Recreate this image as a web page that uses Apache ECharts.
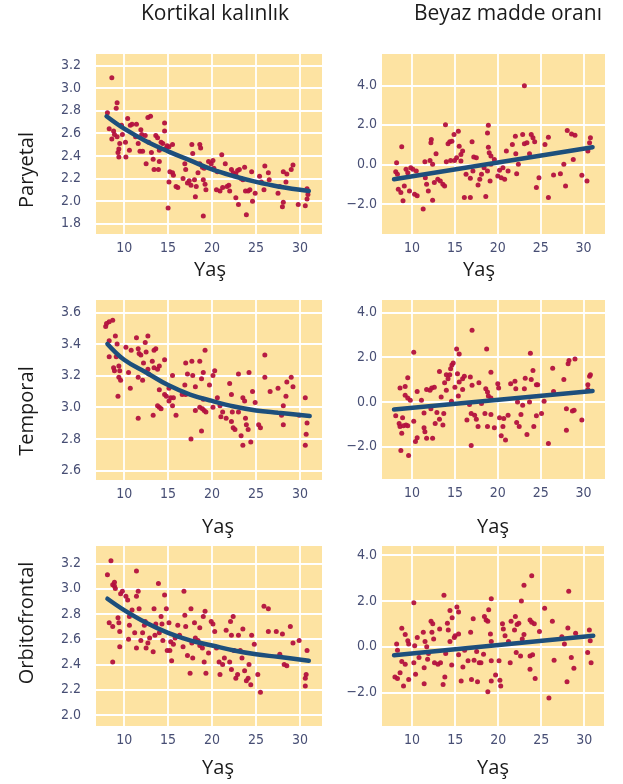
<!DOCTYPE html>
<html>
<head>
<meta charset="utf-8">
<script src="https://cdn.jsdelivr.net/npm/echarts@6/dist/echarts.min.js"></script>
<style>
  html, body { margin: 0; padding: 0; background: #fff; }
</style>
</head>
<body>
<div id="chart" style="width:623px;height:784px"></div>
<script>
// column / row labels
const colTitles = ['Kortikal kalınlık', 'Beyaz madde oranı'];
const rowTitles = ['Paryetal', 'Temporal', 'Orbitofrontal'];
const xTitle = 'Yaş';
const ageTicks = [10, 15, 20, 25, 30];

// Paryetal - kortikal kalinlik
const paryetalKortikal = [
  [8.6,3.09],[8.1,2.78],[9.2,2.87],[9.1,2.82],[8.3,2.64],[8.6,2.55],[8.9,2.59],[9.2,2.57],[9.5,2.51],[9.4,2.46],
  [9.3,2.43],[9.4,2.39],[9.7,2.67],[9.8,2.59],[10.15,2.52],[10.2,2.39],[10.4,2.73],[10.6,2.45],[8.8,2.62],
  [10.7,2.67],[10.9,2.68],[11.3,2.57],[11.4,2.68],[11.6,2.51],[11.8,2.44],[11.9,2.63],[12.0,2.59],[12.1,2.44],
  [12.4,2.58],[12.5,2.33],[12.7,2.74],[13.0,2.75],[12.8,2.52],[13.1,2.43],[13.3,2.37],[13.4,2.28],[13.9,2.28],
  [13.6,2.58],[13.8,2.56],[14.0,2.45],[14.2,2.52],[14.4,2.51],[14.6,2.69],[14.6,2.62],[14.8,2.47],[14.9,2.49],
  [15.1,2.48],[15.5,2.50],[14.0,2.35],[15.1,2.17],[15.2,2.26],[15.5,2.25],[15.0,1.94],[15.6,2.23],[15.9,2.13],
  [16.1,2.12],[16.7,2.20],[16.9,2.33],[17.0,2.28],[17.2,2.16],[17.4,2.18],[17.6,2.14],[17.7,2.50],[17.8,2.42],
  [18.0,2.19],[18.2,2.13],[18.1,2.04],[18.4,2.25],[18.6,2.50],[18.7,2.47],[18.6,2.33],[18.9,2.30],[19.0,2.19],
  [19.1,2.29],[19.2,2.15],[19.3,2.10],[19.0,1.87],[19.6,2.35],[19.9,2.33],[20.1,2.36],[20.2,2.29],[20.5,2.10],
  [20.6,2.26],[20.9,2.09],[21.1,2.41],[21.5,2.33],[21.2,2.12],[21.7,2.13],[21.9,2.14],[22.0,2.09],[22.2,2.28],
  [22.4,2.25],[22.7,2.03],[22.7,2.24],[22.9,2.27],[23.1,2.28],[23.0,1.97],[23.3,2.20],[23.5,2.19],[23.7,2.30],
  [23.8,2.09],[23.9,1.88],[24.1,2.09],[24.3,2.10],[24.5,2.26],[24.6,2.00],[24.9,2.07],[25.4,2.22],[25.6,2.17],
  [25.9,2.10],[26.0,2.31],[26.4,2.25],[26.5,2.19],[27.5,2.07],[27.7,2.13],[28.0,1.95],[28.1,1.99],[28.1,2.26],
  [28.4,2.17],[28.5,2.24],[29.0,2.28],[29.2,2.32],[29.8,1.97],[30.6,1.96],[30.8,2.11],[30.9,2.06],[30.8,2.02]
];
const paryetalKortikalFit = [[8,2.75],[10,2.64],[12.5,2.53],[15,2.44],[17.5,2.36],[20,2.28],[22.5,2.22],[25,2.17],[27.5,2.13],[31,2.09]];

// Paryetal - beyaz madde
const paryetalBeyaz = [
  [23.1,3.97],[13.9,2.0],[18.9,1.98],[8.8,0.89],[8.2,0.08],[8.1,-0.37],[8.3,-0.5],[8.4,-1.26],[8.7,-1.42],[8.95,-1.84],
  [9.1,-1.09],[9.3,-0.25],[9.5,-0.42],[9.7,-1.34],[9.85,-0.17],[10.1,-0.25],[10.3,-1.51],[10.6,-1.59],[10.5,-0.34],
  [11.3,-2.26],[11.5,0.13],[11.55,-0.67],[11.7,-1.0],[11.9,-1.34],[12.1,0.2],[12.2,1.09],[12.25,1.26],[12.4,0],
  [12.4,-1.81],[12.6,-0.92],[12.8,0.54],[13.0,-0.75],[13.3,-0.84],[13.6,-1.0],[13.8,-1.09],[14.0,0.13],[14.2,1.04],
  [14.4,1.14],[14.5,0.2],[14.65,1.17],[14.9,1.51],[14.96,0.2],[15.2,0.34],[15.4,1.68],[15.5,0.92],[15.7,0.5],
  [15.7,0.17],[15.9,0.67],[16.1,-1.68],[16.3,-0.5],[16.8,-0.7],[16.8,-1.68],[17.0,1.14],[17.1,-0.34],[17.2,0.37],
  [17.5,0.34],[17.7,-1.04],[17.9,-0.75],[18.1,-0.5],[18.4,-0.17],[18.6,-1.63],[18.8,1.59],[18.8,-0.34],[18.9,0.87],
  [19.0,0.59],[19.1,-0.84],[19.2,0.42],[19.2,0],[19.6,0.25],[20.0,-0.59],[20.2,-0.3],[20.4,-0.67],[20.6,-0.17],
  [20.8,-0.75],[21.0,0.67],[21.2,-0.34],[21.7,1.0],[22.05,1.42],[22.1,0.54],[22.2,-0.47],[22.4,0],[22.9,1.51],
  [23.1,1.04],[23.4,1.09],[23.7,0.54],[23.9,1.51],[24.1,1.34],[24.3,1.14],[24.5,-1.17],[24.8,-0.67],[25.5,1.0],
  [25.9,1.37],[25.9,-1.68],[26.5,-0.54],[27.3,-0.47],[27.7,0],[27.9,-1.09],[28.1,1.71],[28.6,1.54],[29.0,1.47],
  [28.8,0.25],[29.8,-0.55],[30.4,-0.84],[30.5,0.67],[30.7,1.09],[30.8,1.34]
];
const paryetalBeyazFit = [[7.9,-0.75],[31.05,0.87]];

// Temporal - kortikal kalinlik
const temporalKortikal = [
  [7.9,3.51],[8.0,3.53],[8.3,3.54],[8.7,3.55],[8.3,3.42],[9.0,3.45],[9.2,3.40],[8.3,3.32],[8.8,3.25],[8.9,3.23],
  [9.1,3.32],[9.4,3.26],[9.5,3.23],[9.4,3.19],[9.6,3.17],[9.3,3.07],[10.2,3.38],[10.5,3.22],[10.7,3.12],[10.8,3.36],
  [11.4,3.44],[11.6,3.37],[11.6,3.19],[11.7,3.34],[11.6,2.93],[11.9,3.33],[12.1,3.17],[12.2,3.28],[12.4,3.41],
  [12.5,3.35],[12.7,3.45],[12.7,3.24],[12.8,3.21],[13.2,3.29],[13.4,3.25],[13.4,3.36],[13.6,3.37],[13.8,3.24],
  [14.0,3.26],[13.8,3.01],[14.0,3.0],[14.2,2.99],[13.3,2.95],[14.0,3.11],[14.6,3.30],[14.6,3.08],[14.8,3.07],
  [15.1,3.12],[15.1,3.04],[15.3,3.06],[15.5,3.20],[15.5,3.01],[15.6,3.06],[15.9,2.95],[16.6,3.08],[16.9,3.14],
  [17.0,3.28],[17.0,3.08],[17.2,3.21],[17.6,2.80],[17.7,3.29],[17.8,3.20],[18.1,3.13],[18.6,3.29],[18.8,3.18],
  [19.0,3.22],[19.2,3.36],[18.8,2.85],[18.6,3.0],[18.9,2.99],[19.1,2.98],[19.3,2.97],[18.1,2.98],[19.0,3.05],
  [19.7,3.14],[20.1,3.20],[20.3,3.23],[20.1,3.0],[20.6,3.06],[20.9,3.01],[21.0,2.94],[21.2,2.97],[21.6,2.93],
  [22.0,3.15],[22.2,3.08],[22.3,2.97],[22.2,2.91],[22.4,2.87],[22.6,2.86],[23.0,3.21],[23.0,2.97],[23.3,2.82],
  [23.5,3.06],[23.7,3.04],[23.5,2.76],[23.8,2.93],[23.9,2.89],[24.1,2.86],[24.2,3.22],[24.4,2.78],[24.6,3.10],
  [24.9,3.03],[25.3,2.89],[25.5,2.87],[26.0,3.33],[26.0,3.19],[26.6,3.10],[27.5,3.12],[27.9,2.95],[28.1,3.01],
  [28.1,2.89],[28.4,3.07],[28.5,3.16],[29.0,3.19],[29.2,3.13],[29.9,2.95],[30.6,3.06],[30.8,2.90],[30.7,2.83],
  [30.6,2.76]
];
const temporalKortikalFit = [[8.1,3.40],[10,3.30],[12.5,3.22],[15,3.14],[17.5,3.08],[20,3.04],[22.5,3.005],[25,2.98],[27.5,2.965],[31.1,2.945]];

// Temporal - beyaz madde
const temporalBeyaz = [
  [17.0,3.2],[15.2,2.36],[15.5,2.14],[18.7,2.36],[10.2,2.22],[23.8,2.17],[8.6,0.62],[9.2,0.69],[9.5,1.08],[9.2,0.3],
  [9.5,0.18],[9.8,0.07],[8.1,-0.62],[8.5,-0.96],[8.6,-1.1],[8.9,-0.71],[9.0,-1.06],[9.3,-1.03],[9.5,-1.06],[8.8,-1.4],
  [8.7,-2.17],[9.6,-2.39],[10.2,-0.86],[10.4,-1.77],[10.6,-1.6],[10.6,0.47],[11.1,0.07],[11.4,-0.49],[11.4,-1.15],
  [11.5,-1.33],[11.7,-1.62],[11.7,0.56],[12.1,0.52],[12.3,0.62],[12.4,-1.62],[12.2,-0.3],[12.6,0.66],[12.7,-0.96],
  [12.9,-0.47],[13.2,1.36],[13.2,-0.77],[13.4,0.22],[13.6,-1.03],[13.7,-0.52],[13.8,0.86],[14.0,1.21],[14.0,0.52],
  [14.2,1.03],[14.4,1.21],[14.5,1.48],[14.65,1.65],[14.8,1.74],[14.6,0.03],[15.0,0.66],[15.3,1.26],[15.4,0.27],
  [15.5,0.89],[15.9,1.03],[15.9,0.56],[16.1,1.15],[16.4,-0.81],[16.7,-0.12],[16.8,1.11],[16.9,-0.52],[16.9,-1.95],
  [17.0,0.74],[17.3,-0.59],[17.5,-0.77],[17.7,-1.1],[17.8,0.86],[18.1,-0.07],[18.5,-0.52],[18.6,0.59],[18.8,-1.1],
  [18.8,0.44],[18.9,0.27],[19.2,1.33],[19.2,0.18],[19.2,-0.56],[19.6,-1.15],[20.0,0.81],[20.1,0.62],[20.2,-0.71],
  [20.4,-1.51],[20.6,-1.1],[20.7,-0.74],[20.9,-1.7],[21.2,-0.59],[21.5,0.81],[22.0,0.92],[22.1,0.59],[22.2,-0.92],
  [22.3,0],[22.5,-1.1],[22.7,-0.56],[22.9,-0.15],[23.1,0.59],[23.2,1.06],[23.4,-1.45],[23.7,0],[23.9,1.0],[24.1,1.4],
  [24.2,-1.1],[24.5,0.77],[24.65,0.77],[24.5,-0.62],[25.1,-0.52],[25.4,0.03],[25.9,-1.85],[26.4,1.5],[26.5,0.47],
  [27.7,1.0],[28.0,-1.26],[28.0,-0.3],[28.2,1.7],[28.3,1.85],[28.7,-0.41],[28.9,-0.37],[29.0,1.92],[29.8,-0.81],
  [30.5,0.77],[30.5,0.56],[30.7,1.15],[30.8,1.21]
];
const temporalBeyazFit = [[7.9,-0.34],[31.05,0.49]];

// Orbitofrontal - kortikal kalinlik
const orbitoKortikal = [
  [8.5,3.22],[8.1,3.11],[8.7,3.03],[8.9,3.05],[8.9,3.02],[9.0,3.0],[8.3,2.73],[8.7,2.70],[9.3,2.77],[9.4,2.73],
  [9.5,2.66],[9.5,2.54],[8.7,2.42],[9.6,2.96],[9.8,2.98],[10.2,2.94],[10.4,2.91],[10.6,2.78],[10.6,2.71],[10.5,2.60],
  [10.9,2.83],[11.2,2.65],[11.4,3.14],[11.4,2.94],[11.6,2.98],[11.4,2.53],[11.7,2.84],[11.9,2.59],[12.1,2.65],
  [12.3,2.71],[12.4,2.74],[12.5,2.53],[12.7,2.57],[12.9,2.61],[13.3,2.50],[13.4,2.84],[13.5,2.63],[13.6,2.72],
  [13.9,3.04],[14.0,2.65],[14.2,2.78],[14.3,2.72],[14.4,2.59],[14.6,2.95],[14.8,2.84],[14.9,2.51],[15.1,2.73],
  [15.2,2.51],[15.3,2.58],[15.4,2.43],[15.6,2.56],[15.8,2.61],[16.1,2.71],[16.3,2.63],[16.7,2.54],[16.8,2.98],
  [16.9,2.79],[17.0,2.70],[17.2,2.47],[17.5,2.33],[17.6,2.84],[17.7,2.57],[17.8,2.45],[18.0,2.73],[18.1,2.61],
  [18.4,2.59],[18.6,2.69],[18.6,2.55],[18.9,2.53],[19.0,2.78],[19.2,2.82],[19.1,2.42],[19.3,2.33],[19.6,2.49],
  [19.9,2.74],[20.1,2.72],[20.3,2.66],[20.5,2.53],[20.8,2.42],[20.9,2.32],[21.2,2.40],[21.4,2.45],[21.6,2.67],
  [22.0,2.42],[22.1,2.74],[22.2,2.63],[22.2,2.36],[22.4,2.78],[22.5,2.51],[22.7,2.29],[22.9,2.32],[23.0,2.63],
  [23.2,2.51],[23.4,2.45],[23.5,2.68],[23.7,2.35],[23.9,2.27],[24.1,2.29],[24.2,2.40],[24.4,2.24],[24.5,2.63],
  [24.8,2.56],[25.2,2.32],[25.5,2.18],[25.9,2.86],[26.4,2.84],[26.4,2.66],[27.3,2.66],[27.7,2.48],[28.0,2.64],
  [28.2,2.40],[28.5,2.39],[28.9,2.70],[29.2,2.57],[29.9,2.59],[30.8,2.51],[30.7,2.32],[30.6,2.29],[30.6,2.23]
];
const orbitoKortikalFit = [[8.1,2.92],[10,2.83],[12.5,2.73],[15,2.65],[17.5,2.59],[20,2.55],[22.5,2.51],[25,2.48],[27.5,2.46],[31,2.43]];

// Orbitofrontal - beyaz madde
const orbitoBeyaz = [
  [23.9,3.09],[23.0,2.68],[28.2,2.42],[13.7,2.24],[10.2,1.92],[19.2,2.09],[22.7,1.99],[25.4,1.68],[8.8,0.81],[8.2,0.12],
  [8.3,-0.15],[9.2,0.53],[9.5,0.26],[9.6,0.12],[8.0,-1.32],[8.3,-1.38],[8.6,-1.13],[8.8,-0.64],[9.0,-1.71],[9.2,-0.76],
  [9.6,-1.42],[10.2,-0.69],[10.3,0.04],[10.4,-1.2],[10.6,0.41],[10.8,-0.47],[11.3,0.63],[11.4,-0.91],[11.4,-1.61],
  [11.5,0.23],[11.7,0],[11.8,-0.54],[11.9,-0.29],[12.2,1.11],[12.4,1.0],[12.3,0.63],[12.5,0.34],[12.6,-0.69],
  [13.0,-0.76],[13.2,0.78],[13.3,-0.69],[13.6,-1.64],[13.8,-1.32],[13.9,-0.29],[14.1,1.02],[14.2,0.73],[14.4,0.23],
  [14.4,1.58],[14.6,-0.79],[14.65,1.26],[14.9,0.41],[15.0,0.48],[15.2,1.73],[15.4,1.51],[15.4,-0.35],[15.4,0.56],
  [15.7,-1.49],[15.9,-0.88],[16.1,-0.15],[16.5,-0.61],[16.8,0.63],[16.9,-1.42],[17.1,1.22],[17.2,-0.59],[17.5,-0.2],
  [17.6,-1.52],[17.8,-0.69],[18.0,-0.69],[18.3,-0.32],[18.4,1.32],[18.6,1.17],[18.8,1.11],[18.8,-1.96],[18.9,1.61],
  [19.1,0.56],[19.2,0.23],[19.2,-0.61],[19.2,-1.49],[19.7,-1.23],[20.1,-0.61],[20.2,-1.46],[20.3,-1.71],[20.5,1.0],
  [20.6,0.78],[20.8,0.48],[21.2,0.23],[21.4,-0.69],[21.5,1.11],[21.9,0.73],[22.0,1.32],[22.1,-0.25],[22.2,0.97],
  [22.4,1.02],[22.6,-0.4],[22.8,0.34],[23.0,0.53],[23.7,1.17],[23.7,-0.4],[23.9,1.07],[24.0,-0.35],[23.7,-0.98],
  [24.2,1.0],[24.3,-1.38],[24.8,0.67],[25.9,-2.23],[26.3,1.11],[26.5,-0.59],[27.4,0.44],[27.7,0.12],[28.0,-1.52],
  [28.1,0.82],[28.5,-0.47],[28.8,-0.94],[29.0,0.59],[30.4,-0.25],[30.6,0.73],[30.7,0.26],[30.8,-0.69]
];
const orbitoBeyazFit = [[7.9,-0.37],[31.05,0.48]];

// y tick labels per panel
const yTicksParKor = [1.8, 2.0, 2.2, 2.4, 2.6, 2.8, 3.0, 3.2];
const yTicksTemKor = [2.6, 2.8, 3.0, 3.2, 3.4, 3.6];
const yTicksOrbKor = [2.0, 2.2, 2.4, 2.6, 2.8, 3.0, 3.2];
const yTicksBeyaz = [-2.0, 0.0, 2.0, 4.0];

const panels = [
  { pts: paryetalKortikal, fit: paryetalKortikalFit, ticks: yTicksParKor, grid: [96, 54, 226, 180], x: [6.8, 32.5], y: [1.71, 3.30], margin: 15 },
  { pts: paryetalBeyaz, fit: paryetalBeyazFit, ticks: yTicksBeyaz, grid: [382, 54, 223, 180], x: [6.5, 32.5], y: [-3.52, 5.58], margin: 5 },
  { pts: temporalKortikal, fit: temporalKortikalFit, ticks: yTicksTemKor, grid: [96, 300, 226, 180], x: [6.8, 32.5], y: [2.54, 3.678], margin: 15 },
  { pts: temporalBeyaz, fit: temporalBeyazFit, ticks: yTicksBeyaz, grid: [382, 300, 223, 179], x: [6.5, 32.5], y: [-3.44, 4.55], margin: 5 },
  { pts: orbitoKortikal, fit: orbitoKortikalFit, ticks: yTicksOrbKor, grid: [96, 546, 226, 180], x: [6.8, 32.5], y: [1.913, 3.337], margin: 15 },
  { pts: orbitoBeyaz, fit: orbitoBeyazFit, ticks: yTicksBeyaz, grid: [382, 546, 222, 180], x: [6.5, 32.3], y: [-3.45, 4.39], margin: 5 }
];

const labelFont = "'Liberation Sans Narrow', 'DejaVu Sans Condensed', sans-serif";
const labelColor = '#474e74';
const titleFont = "'Open Sans', sans-serif";

const chart = echarts.init(document.getElementById('chart'));

const grid = [], xAxis = [], yAxis = [], series = [];
panels.forEach(function (p, i) {
  grid.push({
    left: p.grid[0], top: p.grid[1], width: p.grid[2], height: p.grid[3],
    show: true, backgroundColor: '#fde3a2', borderWidth: 0
  });
  xAxis.push({
    type: 'value', gridIndex: i, min: p.x[0], max: p.x[1],
    axisLine: { show: false },
    axisTick: { show: false, customValues: ageTicks },
    axisLabel: {
      customValues: ageTicks, margin: 7, color: labelColor,
      fontFamily: labelFont, fontSize: 14
    },
    splitLine: { show: false }
  });
  yAxis.push({
    type: 'value', gridIndex: i, min: p.y[0], max: p.y[1],
    axisLine: { show: false },
    axisTick: { show: false, customValues: p.ticks },
    axisLabel: {
      customValues: p.ticks, margin: p.margin, color: labelColor,
      fontFamily: labelFont, fontSize: 14,
      formatter: function (v) { return v.toFixed(1).replace('-', '\u2212'); }
    },
    splitLine: { show: false }
  });
  // white grid lines at the tick values, kept under the points
  series.push({
    type: 'line', xAxisIndex: i, yAxisIndex: i, data: [], z: 1,
    markLine: {
      z: 1, silent: true, symbol: 'none', animation: false,
      label: { show: false },
      lineStyle: { color: '#ffffff', width: 1.8, type: 'solid' },
      data: ageTicks.map(function (v) { return { xAxis: v }; })
        .concat(p.ticks.map(function (v) { return { yAxis: v }; }))
    }
  });
  series.push({
    type: 'scatter', xAxisIndex: i, yAxisIndex: i,
    symbolSize: 5, itemStyle: { color: '#b3113e', opacity: 0.95 },
    data: p.pts, z: 6
  });
  series.push({
    type: 'line', xAxisIndex: i, yAxisIndex: i,
    smooth: 0.4, symbol: 'none',
    lineStyle: { color: '#1d4f7c', width: 4.5, cap: 'round' },
    data: p.fit, z: 7
  });
});

// text around the panels
const graphic = [
  { type: 'text', x: 215, y: 14, style: { text: colTitles[0], font: '21px ' + titleFont, fill: '#1a1a1a', textAlign: 'center', textVerticalAlign: 'middle' } },
  { type: 'text', x: 414, y: 14, style: { text: colTitles[1], font: '21px ' + titleFont, fill: '#1a1a1a', textAlign: 'left', textVerticalAlign: 'middle' } },
  { type: 'text', x: 27, y: 170, rotation: Math.PI / 2, style: { text: rowTitles[0], font: '20px ' + titleFont, fill: '#1a1a1a', textAlign: 'center', textVerticalAlign: 'middle' } },
  { type: 'text', x: 27, y: 411, rotation: Math.PI / 2, style: { text: rowTitles[1], font: '20px ' + titleFont, fill: '#1a1a1a', textAlign: 'center', textVerticalAlign: 'middle' } },
  { type: 'text', x: 27, y: 623, rotation: Math.PI / 2, style: { text: rowTitles[2], font: '20px ' + titleFont, fill: '#1a1a1a', textAlign: 'center', textVerticalAlign: 'middle' } }
];
[[210, 270], [479, 270], [218, 527], [493, 527], [218, 768], [493, 768]].forEach(function (pos) {
  graphic.push({ type: 'text', x: pos[0], y: pos[1], style: { text: xTitle, font: '20px ' + titleFont, fill: '#1a1a1a', textAlign: 'center', textVerticalAlign: 'middle' } });
});

chart.setOption({
  animation: false,
  grid: grid,
  xAxis: xAxis,
  yAxis: yAxis,
  series: series,
  graphic: graphic
});
</script>
</body>
</html>
